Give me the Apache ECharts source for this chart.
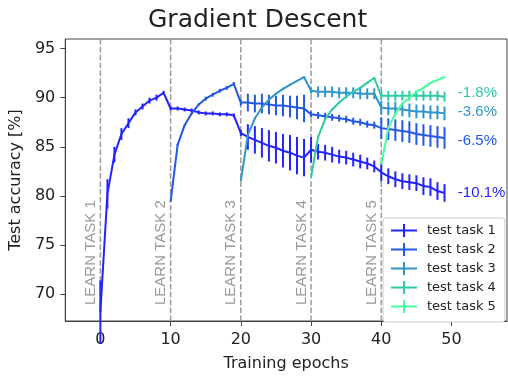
<!DOCTYPE html>
<html><head><meta charset="utf-8">
<script src="https://cdn.jsdelivr.net/npm/echarts@6/dist/echarts.min.js"></script>
<style>html,body{margin:0;padding:0;background:#fff}#c{width:508px;height:377px}</style>
</head><body><div id="c"></div>
<script>
const taskNames = ['test task 1', 'test task 2', 'test task 3', 'test task 4', 'test task 5'];
const taskStart = [0, 10, 20, 30, 40];
const taskColors = ['#2323ff', '#2358e6', '#2f96c9', '#2ec9a8', '#44ff9f'];

const task1Mean = [68.2, 80.2, 84.2, 86.3, 87.4, 88.5, 89.1, 89.7, 90.0, 90.5,
  88.9, 88.9, 88.8, 88.7, 88.5, 88.4, 88.4, 88.3, 88.3, 88.2,
  86.4, 86.0, 85.7, 85.4, 85.1, 84.9, 84.6, 84.4, 84.1, 83.9,
  84.7, 84.5, 84.4, 84.2, 84.0, 83.9, 83.7, 83.5, 83.3, 83.0,
  82.4, 82.0, 81.7, 81.5, 81.4, 81.3, 81.0, 80.9, 80.5, 80.3];
const task1Err = [3.2, 1.5, 0.8, 0.6, 0.5, 0.3, 0.3, 0.3, 0.3, 0.2,
  0.2, 0.2, 0.2, 0.2, 0.2, 0.2, 0.2, 0.2, 0.2, 0.2,
  0.3, 1.3, 1.4, 1.5, 1.6, 1.6, 1.7, 1.8, 1.9, 1.9,
  1.3, 0.8, 0.8, 0.8, 0.7, 0.7, 0.7, 0.7, 0.6, 0.6,
  0.9, 0.8, 0.8, 0.8, 0.8, 0.8, 0.9, 0.9, 0.9, 0.9];

const task2Mean = [79.4, 85.2, 87.2, 88.4, 89.3, 89.9, 90.3, 90.7, 91.0, 91.4,
  89.5, 89.5, 89.4, 89.4, 89.3, 89.2, 89.2, 89.1, 89.0, 88.9,
  88.3, 88.2, 88.1, 88.0, 87.9, 87.8, 87.6, 87.5, 87.3, 87.2,
  86.9, 86.8, 86.7, 86.6, 86.5, 86.3, 86.2, 86.1, 86.0, 85.9];
const task2Err = [0, 0.1, 0.1, 0.1, 0.1, 0.2, 0.2, 0.2, 0.2, 0.2,
  0.3, 0.9, 0.9, 1.0, 1.0, 1.0, 1.1, 1.1, 1.2, 1.4,
  0.3, 0.35, 0.35, 0.35, 0.35, 0.35, 0.35, 0.35, 0.35, 0.35,
  1.1, 1.1, 1.1, 1.1, 1.1, 1.1, 1.1, 1.1, 1.1, 1.1];

const task3Mean = [81.5, 86.2, 87.9, 89.0, 89.8, 90.4, 90.9, 91.3, 91.7, 92.1,
  90.7, 90.6, 90.6, 90.6, 90.5, 90.5, 90.5, 90.4, 90.4, 90.4,
  89.0, 88.9, 88.9, 88.8, 88.7, 88.6, 88.6, 88.5, 88.5, 88.4];
const task3Err = [0, 0.1, 0.1, 0.1, 0.1, 0.1, 0.1, 0.1, 0.1, 0.1,
  0.3, 0.55, 0.55, 0.55, 0.55, 0.55, 0.55, 0.55, 0.55, 0.55,
  0.7, 0.7, 0.7, 0.7, 0.7, 0.7, 0.7, 0.7, 0.7, 0.7];

const task4Mean = [81.9, 86.0, 87.8, 88.8, 89.5, 90.1, 90.6, 91.0, 91.5, 92.0,
  90.2, 90.2, 90.2, 90.2, 90.2, 90.2, 90.2, 90.2, 90.2, 90.1];
const task4Err = [0, 0.1, 0.1, 0.1, 0.1, 0.1, 0.1, 0.1, 0.1, 0.1,
  0.4, 0.5, 0.5, 0.5, 0.5, 0.5, 0.5, 0.5, 0.5, 0.5];

const task5Mean = [83.2, 86.9, 88.4, 89.4, 90.0, 90.6, 91.0, 91.5, 91.8, 92.1];
const task5Err = [0, 0.1, 0.1, 0.1, 0.1, 0.1, 0.1, 0.1, 0.1, 0.1];

const taskMeans = [task1Mean, task2Mean, task3Mean, task4Mean, task5Mean];
const taskErrs = [task1Err, task2Err, task3Err, task4Err, task5Err];

const xTicks = [0, 10, 20, 30, 40, 50];
const yTicks = [70, 75, 80, 85, 90, 95];
const xMin = -5, xMax = 57.9, yMin = 67.27, yMax = 95.97;

const learnLabels = ['LEARN TASK 1', 'LEARN TASK 2', 'LEARN TASK 3', 'LEARN TASK 4', 'LEARN TASK 5'];
const forgetLabels = ['-10.1%', '-6.5%', '-3.6%', '-1.8%'];
const forgetLabelY = [80.3, 85.6, 88.6, 90.5];
const forgetLabelTask = [0, 1, 2, 3];
const forgetLabelX = 50.9;

const series = [];

series.push({
  type: 'custom', silent: true, z: 1, clip: false,
  data: taskStart.map((s, i) => [s, i]),
  encode: { x: 0 },
  renderItem: (params, api) => {
    const idx = api.value(1);
    const pb = api.coord([api.value(0), yMin]);
    const pt = api.coord([api.value(0), yMax]);
    return {
      type: 'group', children: [
        { type: 'line', shape: { x1: pb[0], y1: pb[1], x2: pt[0], y2: pt[1] },
          style: { stroke: '#9a9a9a', lineWidth: 1.5, lineDash: [5.5, 2.4] } },
        { type: 'text', x: pb[0] - 2, y: pb[1] - 16, rotation: Math.PI / 2,
          style: { text: learnLabels[idx], font: '15px "Liberation Sans"', fill: '#999',
                   align: 'left', verticalAlign: 'bottom' } }
      ]
    };
  }
});

for (let k = 0; k < 5; k++) {
  const start = taskStart[k];
  const mean = taskMeans[k];
  const err = taskErrs[k];
  const color = taskColors[k];
  series.push({
    name: taskNames[k], type: 'line', z: 3 + k,
    data: mean.map((v, i) => [start + i, v]),
    showSymbol: false, symbol: 'none',
    clip: k !== 0,
    lineStyle: { width: 2, color: color },
    itemStyle: { color: color },
    emphasis: { disabled: true }
  });
  series.push({
    name: taskNames[k], type: 'custom', z: 3 + k,
    clip: k !== 0,
    data: mean.map((v, i) => [start + i, v - err[i], v + err[i]]).filter((d, i) => err[i] > 0),
    encode: { x: 0, y: [1, 2] },
    itemStyle: { color: color },
    renderItem: (params, api) => {
      const p1 = api.coord([api.value(0), api.value(1)]);
      const p2 = api.coord([api.value(0), api.value(2)]);
      return { type: 'line', shape: { x1: p1[0], y1: p1[1], x2: p2[0], y2: p2[1] },
               style: { stroke: color, lineWidth: 2 } };
    }
  });
}

series.push({
  type: 'custom', silent: true, z: 10, clip: false,
  data: forgetLabelY.map((y, i) => [forgetLabelX, y, i]),
  encode: { x: 0, y: 1 },
  renderItem: (params, api) => {
    const idx = api.value(2);
    const p = api.coord([api.value(0), api.value(1)]);
    return { type: 'text', x: p[0], y: p[1],
      style: { text: forgetLabels[idx], font: '15px "Liberation Sans"',
               fill: taskColors[forgetLabelTask[idx]], align: 'left', verticalAlign: 'middle' } };
  }
});

const plusPath = 'path://M0,5.5H26V7.5H0Z M12,0H14V13H12Z';

const chart = echarts.init(document.getElementById('c'), null, { renderer: 'canvas' });
chart.setOption({
  animation: false,
  backgroundColor: '#fff',
  title: {
    text: 'Gradient Descent', left: 143, top: 3,
    textStyle: { fontFamily: 'DejaVu Sans', fontSize: 25, fontWeight: 'normal', color: '#222' }
  },
  grid: { left: 65, right: 1, top: 39, bottom: 51, show: true, borderColor: '#444', borderWidth: 1, backgroundColor: 'transparent' },
  legend: {
    data: taskNames.map(n => ({ name: n, icon: plusPath })),
    orient: 'vertical', left: 383, top: 218,
    itemWidth: 26, itemHeight: 13, itemGap: 6,
    padding: [6, 9, 9, 8],
    backgroundColor: '#fff', borderColor: '#ccc', borderWidth: 1, borderRadius: 3,
    textStyle: { fontFamily: 'DejaVu Sans', fontSize: 13, color: '#222', padding: [0, 0, 0, 5] },
    selectedMode: false
  },
  xAxis: {
    type: 'value', min: xMin, max: xMax,
    name: 'Training epochs', nameLocation: 'middle', nameGap: 35,
    nameTextStyle: { fontFamily: 'DejaVu Sans', fontSize: 16, color: '#222' },
    axisLine: { show: true, onZero: false, lineStyle: { color: '#444', width: 1 } },
    axisTick: { show: true, customValues: xTicks, length: 5, lineStyle: { color: '#444' } },
    axisLabel: { customValues: xTicks, fontFamily: 'DejaVu Sans', fontSize: 16, color: '#222', margin: 11 },
    splitLine: { show: false }
  },
  yAxis: {
    type: 'value', min: yMin, max: yMax,
    name: 'Test accuracy [%]', nameLocation: 'middle', nameGap: 36,
    nameTextStyle: { fontFamily: 'DejaVu Sans', fontSize: 16, color: '#222' },
    axisLine: { show: true, onZero: false, lineStyle: { color: '#444', width: 1 } },
    axisTick: { show: true, customValues: yTicks, length: 5, lineStyle: { color: '#444' } },
    axisLabel: { customValues: yTicks, fontFamily: 'DejaVu Sans', fontSize: 16, color: '#222', margin: 10 },
    splitLine: { show: false }
  },
  series: series
});
</script></body></html>
